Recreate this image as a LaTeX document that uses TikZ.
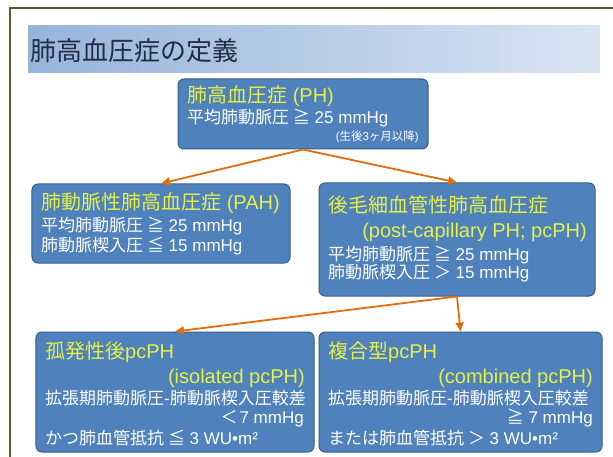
\documentclass[tikz,border=0pt]{standalone}
\usepackage{fontspec}
\setmainfont{Liberation Sans}
\newfontfamily\jp{Noto Sans CJK JP}
\usetikzlibrary{arrows.meta}
\definecolor{boxblue}{RGB}{79,129,189}
\definecolor{boxedge}{RGB}{56,93,138}
\definecolor{hdryellow}{RGB}{230,240,70}
\definecolor{arrorange}{RGB}{228,108,10}
\definecolor{titletext}{RGB}{35,45,70}
\definecolor{framegreen}{RGB}{79,98,40}
\definecolor{barleft}{RGB}{150,180,218}
\definecolor{barright}{RGB}{218,228,242}
\newcommand\myhdr{\fontsize{20bp}{24bp}\selectfont}
\newcommand\mybdy{\fontsize{17bp}{20bp}\selectfont}
\newcommand\mysml{\fontsize{11.5bp}{13bp}\selectfont}
\begin{document}
\begin{tikzpicture}[x=1bp,y=-1bp,
  box/.style={draw=boxedge, line width=1bp, fill=boxblue, rounded corners=6bp, inner sep=0pt},
  wt/.style={anchor=base west, inner sep=0pt, text=white, font=\mybdy},
  wte/.style={wt, anchor=base east},
  yt/.style={anchor=base west, inner sep=0pt, text=hdryellow, font=\myhdr},
  yte/.style={yt, anchor=base east},
  arr/.style={draw=arrorange, line width=1.8bp, -{Triangle[length=9bp,width=8bp]}}]
\useasboundingbox (0,0) rectangle (613,457);
\fill[white] (0,0) rectangle (613,457);
\draw[framegreen, line width=2bp] (10,8) rectangle (640,480);
% title bar
\shade[left color=barleft, right color=barright] (28,26) rectangle (600,73);
\node[anchor=base west, inner sep=0pt, text=titletext, font=\jp\fontsize{26bp}{30bp}\selectfont] (title) at (30,61) {肺高血圧症の定義};
% boxes
\node[box, minimum width=250bp, minimum height=70bp] (b1) at (303,114) {};
\node[box, minimum width=258bp, minimum height=79bp] (b2) at (161,223.5) {};
\node[box, minimum width=276bp, minimum height=113bp] (b3) at (457,239.5) {};
\node[box, minimum width=278bp, minimum height=120bp] (b4) at (175,392) {};
\node[box, minimum width=283bp, minimum height=120bp] (b5) at (460.5,392) {};
% box 1 text
\node[yt] (t1a) at (187,103) {{\jp 肺高血圧症} (PH)};
\node[wt] (t1b) at (187,124) {{\jp 平均肺動脈圧 ≧} 25 mmHg};
\node[wte, font=\mysml] (t1c) at (419,141) {({\jp 生後}3{\jp ヶ月以降})};
% box 2 text
\node[yt] (t2a) at (41,210) {{\jp 肺動脈性肺高血圧症} (PAH)};
\node[wt] (t2b) at (41,232) {{\jp 平均肺動脈圧 ≧} 25 mmHg};
\node[wt] (t2c) at (41,252) {{\jp 肺動脈楔入圧 ≦} 15 mmHg};
% box 3 text
\node[yt] (t3a) at (328,213) {\jp 後毛細血管性肺高血圧症};
\node[yte] (t3b) at (587,238) {(post-capillary PH; pcPH)};
\node[wt] (t3c) at (328,261) {{\jp 平均肺動脈圧 ≧} 25 mmHg};
\node[wt] (t3d) at (328,279) {{\jp 肺動脈楔入圧 ＞} 15 mmHg};
% box 4 text
\node[yt] (t4a) at (45,358) {{\jp 孤発性後}pcPH};
\node[yte] (t4b) at (305,383) {(isolated pcPH)};
\node[wt] (t4c) at (45,404) {{\jp 拡張期肺動脈圧}-{\jp 肺動脈楔入圧較差}};
\node[wte] (t4d) at (304,423) {{\jp ＜}\kern2bp 7 mmHg};
\node[wt] (t4e) at (45,444) {{\jp かつ肺血管抵抗 ≦} 3 WU•m²};
% box 5 text
\node[yt] (t5a) at (328,358) {{\jp 複合型}pcPH};
\node[yte] (t5b) at (593,383) {(combined pcPH)};
\node[wt] (t5c) at (328,404) {{\jp 拡張期肺動脈圧}-{\jp 肺動脈楔入圧較差}};
\node[wte] (t5d) at (593,423) {{\jp ≧} 7 mmHg};
\node[wt] (t5e) at (328,444) {{\jp または肺血管抵抗 ＞} 3 WU•m²};
% arrows
\draw[arr] (b1.south) -- (b2.north);
\draw[arr] (b1.south) -- (b3.north);
\draw[arr] (b3.south) -- (b4.north);
\draw[arr] (b3.south) -- (b5.north);
\end{tikzpicture}
\end{document}
